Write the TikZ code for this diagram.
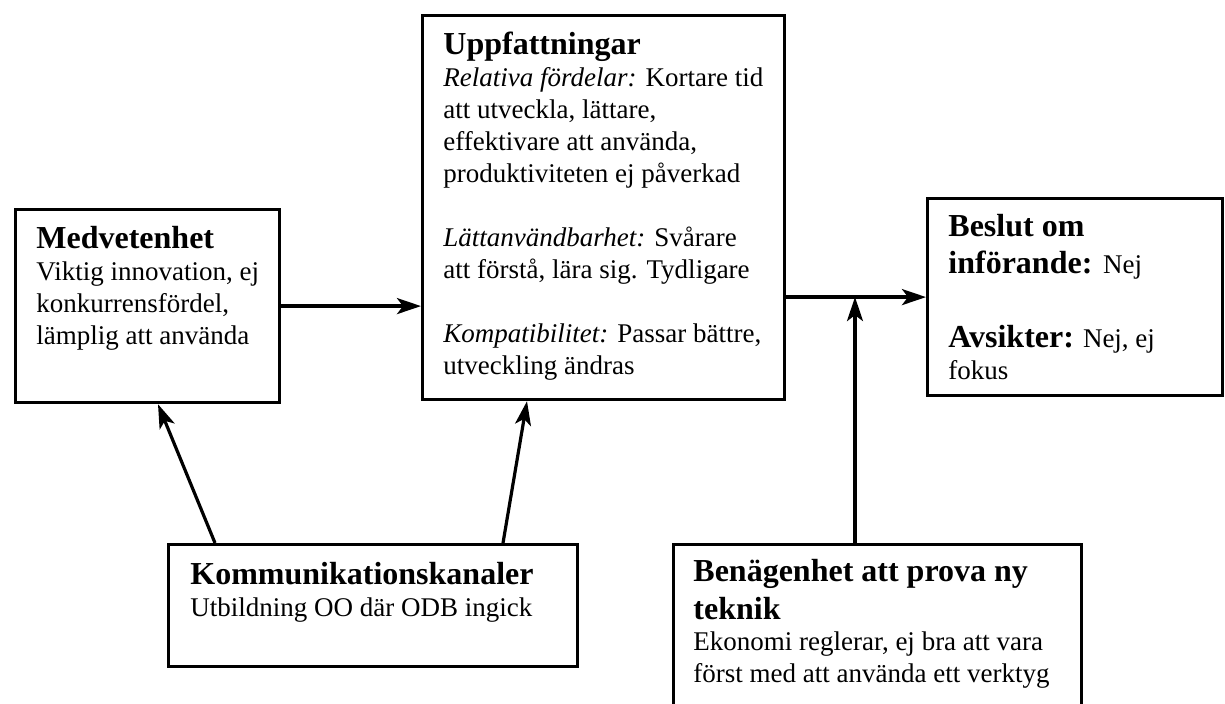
\documentclass[tikz,border=0pt]{standalone}
\usepackage{fontspec}
\setmainfont{Liberation Serif}
\usetikzlibrary{arrows.meta}
\newcommand{\ttlfont}{\fontsize{16}{18.5}\selectfont\bfseries}
\newcommand{\bdyfont}{\fontsize{13.5}{16}\selectfont\mdseries}

\begin{document}
\begin{tikzpicture}
[x = 0.5pt, y = -0.5pt,
 box/.style = {draw = black, line width = 1.6pt, anchor = north west, inner sep = 0pt},
 txt/.style = {anchor = base west, inner sep = 0pt},
 arr/.style = {line width = 1.6pt, -{Stealth[length = 12pt, width = 8pt, inset = 3pt]}}
 ]
\useasboundingbox (0,0) rectangle (1225,704);
\clip (0,0) rectangle (1225,704);
\node [box, minimum width = 132pt, minimum height = 96.5pt] (med) at (14,208) {};
\node [box, minimum width = 181pt, minimum height = 192pt] (upp) at (421,14) {};
\node [box, minimum width = 147.5pt, minimum height = 98.5pt] (bes) at (926,197) {};
\node [box, minimum width = 204.5pt, minimum height = 61pt] (komm) at (167,543) {};
\node [box, minimum width = 204pt, minimum height = 90pt] (ben) at (672,543) {};
\node [txt] (medtxt) at ([shift = {(22,41)}]med.north west) {\parbox[t]{125pt}{\raggedright
  \ttlfont Medvetenhet\par
  \bdyfont Viktig innovation, ej\\ konkurrensfördel,\\ lämplig att använda\par}};
\node [txt] (upptxt) at ([shift = {(22,41)}]upp.north west) {\parbox[t]{172pt}{\raggedright
  \ttlfont Uppfattningar\par
  \bdyfont \textit{Relativa fördelar:} Kortare tid\\ att utveckla, lättare,\\ effektivare att använda,\\ produktiviteten ej påverkad\\[16pt]
  \textit{Lättanvändbarhet:} Svårare\\ att förstå, lära sig. Tydligare\\[16pt]
  \textit{Kompatibilitet:} Passar bättre,\\ utveckling ändras\par}};
\node [txt] (bestxt) at ([shift = {(22,40)}]bes.north west) {\parbox[t]{140pt}{\raggedright
  \ttlfont Beslut om\\ införande: {\bdyfont Nej}\par
  \vspace{21pt}\bdyfont {\ttlfont Avsikter:} Nej, ej\\ fokus\par}};
\node [txt] (kommtxt) at ([shift = {(23,42)}]komm.north west) {\parbox[t]{200pt}{\raggedright
  \ttlfont Kommunikationskanaler\par
  \bdyfont Utbildning OO där ODB ingick\par}};
\node [txt] (bentxt) at ([shift = {(21,39)}]ben.north west) {\parbox[t]{195pt}{\raggedright
  \ttlfont Benägenhet att prova ny\\ teknik\par
  \bdyfont Ekonomi reglerar, ej bra att vara\\ först med att använda ett verktyg\par}};
\path (ben.north west) ++(183,0) coordinate (bentop);
\coordinate (meet) at (bentop |- bes.west);
\path (komm.north west) ++(48,0) coordinate (kommleft);
\path (komm.north west) ++(336,0) coordinate (kommright);
\path (med.south west) ++(144,0) coordinate (medfoot);
\path (upp.south west) ++(106,0) coordinate (uppfoot);
\draw [arr] (med.east) -- (med.east -| upp.west);
\draw [arr] (bes.west -| upp.east) -- (bes.west);
\draw [arr] (bentop) -- (meet);
\draw [arr] (kommleft) -- (medfoot);
\draw [arr] (kommright) -- (uppfoot);
\end{tikzpicture}
\end{document}
